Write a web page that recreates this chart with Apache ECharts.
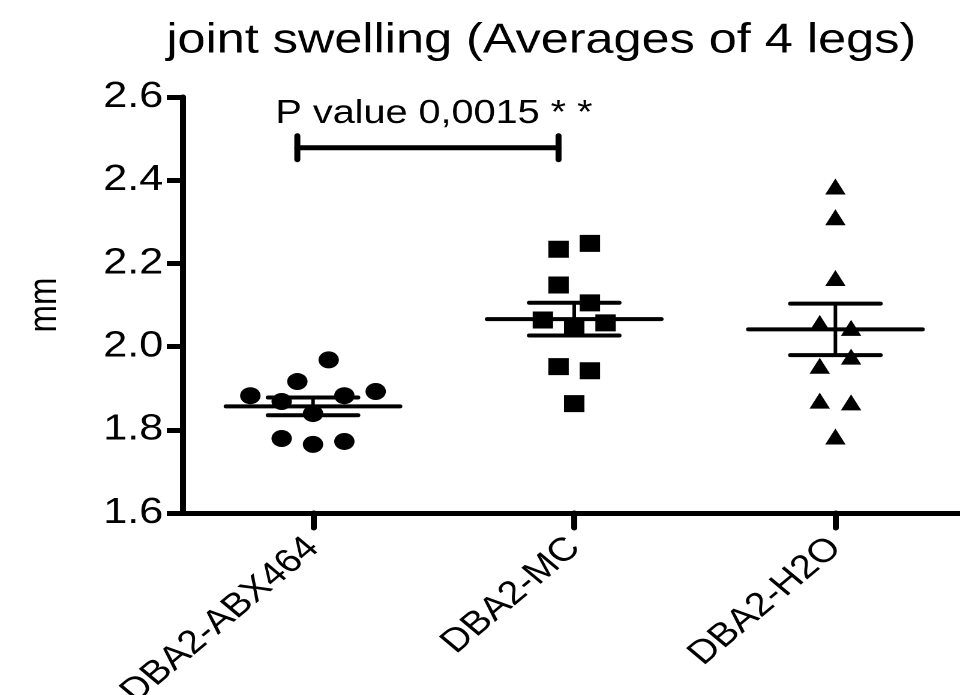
<!DOCTYPE html>
<html>
<head>
<meta charset="utf-8">
<script src="https://cdn.jsdelivr.net/npm/echarts@6/dist/echarts.min.js"></script>
<style>
html,body{margin:0;padding:0;background:#fff;overflow:hidden;width:960px;height:695px;}
#c{width:800px;height:695px;transform:scaleX(1.2);transform-origin:0 0;}
</style>
</head>
<body>
<div id="c"></div>
<script>
// ---------- data ----------
const titleText = 'joint swelling (Averages of 4 legs)';
const yAxisName = 'mm';
const categories = ['DBA2-ABX464', 'DBA2-MC', 'DBA2-H2O'];

const abx464Values = [1.968, 1.916, 1.882, 1.868, 1.882, 1.892, 1.839, 1.779, 1.765, 1.772];
const abx464Jitter = [0.06, -0.06, -0.24, -0.12, 0.12, 0.24, 0, -0.12, 0, 0.12];

const mcValues = [2.234, 2.248, 2.148, 2.105, 2.064, 2.047, 2.057, 1.952, 1.942, 1.863];
const mcJitter = [-0.06, 0.06, -0.06, 0.06, -0.12, 0, 0.12, -0.06, 0.06, 0];

const h2oValues = [2.385, 2.311, 2.165, 2.057, 2.045, 1.976, 1.954, 1.870, 1.866, 1.784];
const h2oJitter = [0, 0, 0, -0.06, 0.06, 0.06, -0.06, -0.06, 0.06, 0];

const yMin = 1.6, yMax = 2.6, yInterval = 0.2;

const pValueText = 'P value 0,0015 * *';
const comparedGroups = [0, 1];
const bracketLevel = 2.478;

// ---------- helpers ----------
const groups = [
  { values: abx464Values, jitter: abx464Jitter, symbol: 'circle' },
  { values: mcValues, jitter: mcJitter, symbol: 'rect' },
  { values: h2oValues, jitter: h2oJitter, symbol: 'triangle' }
];
function mean(a) { return a.reduce((s, v) => s + v, 0) / a.length; }
function sem(a) {
  const m = mean(a);
  const v = a.reduce((s, x) => s + (x - m) * (x - m), 0) / (a.length - 1);
  return Math.sqrt(v / a.length);
}
const FONT = '"Liberation Sans", Arial, Helvetica, sans-serif';

const scatterSeries = groups.map((g, gi) => ({
  type: 'scatter',
  xAxisIndex: 1,
  symbol: g.symbol,
  symbolSize: g.symbol === 'triangle' ? [17, 16] : 17,
  itemStyle: { color: '#000', opacity: 1 },
  emphasis: { disabled: true },
  z: 3,
  data: g.values.map((v, i) => [gi + g.jitter[i], v])
}));

const errorData = groups.map((g, gi) => {
  const m = mean(g.values), s = sem(g.values);
  return [gi, m, m - s, m + s];
});

const chart = echarts.init(document.getElementById('c'), null, { renderer: 'canvas', devicePixelRatio: 2 });

chart.setOption({
  animation: false,
  backgroundColor: '#fff',
  title: {
    text: titleText,
    left: 446,
    top: 15,
    textAlign: 'center',
    textStyle: { fontFamily: FONT, fontSize: 42, fontWeight: 'normal', color: '#000' }
  },
  grid: { left: 152, right: -5, top: 97, bottom: 182, containLabel: false, outerBoundsMode: 'none' },
  xAxis: [
    {
      type: 'category',
      data: categories,
      boundaryGap: true,
      axisLine: { show: true, onZero: false, lineStyle: { color: '#000', width: 5 } },
      axisTick: { show: true, interval: 0, alignWithLabel: true, length: 15, lineStyle: { color: '#000', width: 5, cap: 'round' } },
      axisLabel: { rotate: 45, margin: 30, fontFamily: FONT, fontSize: 33, color: '#000', interval: 0 },
      splitLine: { show: false }
    },
    {
      type: 'value',
      min: -0.5,
      max: 2.5,
      show: false
    }
  ],
  yAxis: {
    type: 'value',
    min: yMin,
    max: yMax,
    interval: yInterval,
    name: yAxisName,
    nameLocation: 'middle',
    nameRotate: 90,
    nameGap: 98,
    nameTextStyle: { fontFamily: FONT, fontSize: 33, color: '#000' },
    axisLine: { show: true, onZero: false, lineStyle: { color: '#000', width: 5 } },
    axisTick: { show: true, length: 13, lineStyle: { color: '#000', width: 5 } },
    axisLabel: { margin: 16, fontFamily: FONT, fontSize: 36, color: '#000', formatter: v => v.toFixed(1) },
    splitLine: { show: false }
  },
  series: scatterSeries.concat([
    {
      type: 'custom',
      xAxisIndex: 1,
      z: 2,
      data: errorData,
      renderItem: function (params, api) {
        const g = api.value(0), m = api.value(1), lo = api.value(2), hi = api.value(3);
        const ml = api.coord([g - 0.333, m]), mr = api.coord([g + 0.333, m]);
        const ll = api.coord([g - 0.172, lo]), lr = api.coord([g + 0.172, lo]);
        const hl = api.coord([g - 0.172, hi]), hr = api.coord([g + 0.172, hi]);
        const vt = api.coord([g, hi]), vb = api.coord([g, lo]);
        const st = { stroke: '#000', lineWidth: 4, lineCap: 'round' };
        return {
          type: 'group',
          children: [
            { type: 'line', shape: { x1: ml[0], y1: ml[1], x2: mr[0], y2: mr[1] }, style: st },
            { type: 'line', shape: { x1: ll[0], y1: ll[1], x2: lr[0], y2: lr[1] }, style: st },
            { type: 'line', shape: { x1: hl[0], y1: hl[1], x2: hr[0], y2: hr[1] }, style: st },
            { type: 'line', shape: { x1: vt[0], y1: vt[1], x2: vb[0], y2: vb[1] }, style: { stroke: '#000', lineWidth: 3 } }
          ]
        };
      }
    },
    {
      type: 'custom',
      xAxisIndex: 1,
      z: 2,
      data: [[comparedGroups[0], comparedGroups[1], bracketLevel]],
      renderItem: function (params, api) {
        const a = api.value(0) - 0.06, b = api.value(1) - 0.06, y = api.value(2);
        const p1 = api.coord([a, y]), p2 = api.coord([b, y]);
        const st = { stroke: '#000', lineWidth: 5, lineCap: 'round' };
        return {
          type: 'group',
          children: [
            { type: 'line', shape: { x1: p1[0], y1: p1[1], x2: p2[0], y2: p2[1] }, style: st },
            { type: 'line', shape: { x1: p1[0], y1: p1[1] - 12, x2: p1[0], y2: p1[1] + 12 }, style: st },
            { type: 'line', shape: { x1: p2[0], y1: p2[1] - 12, x2: p2[0], y2: p2[1] + 12 }, style: st },
            {
              type: 'text',
              x: (p1[0] + p2[0]) / 2 + 5,
              y: p1[1] - 34,
              style: {
                text: pValueText, fill: '#000', fontFamily: FONT, fontSize: 33,
                align: 'center', verticalAlign: 'middle'
              }
            }
          ]
        };
      }
    }
  ])
});
</script>
</body>
</html>
